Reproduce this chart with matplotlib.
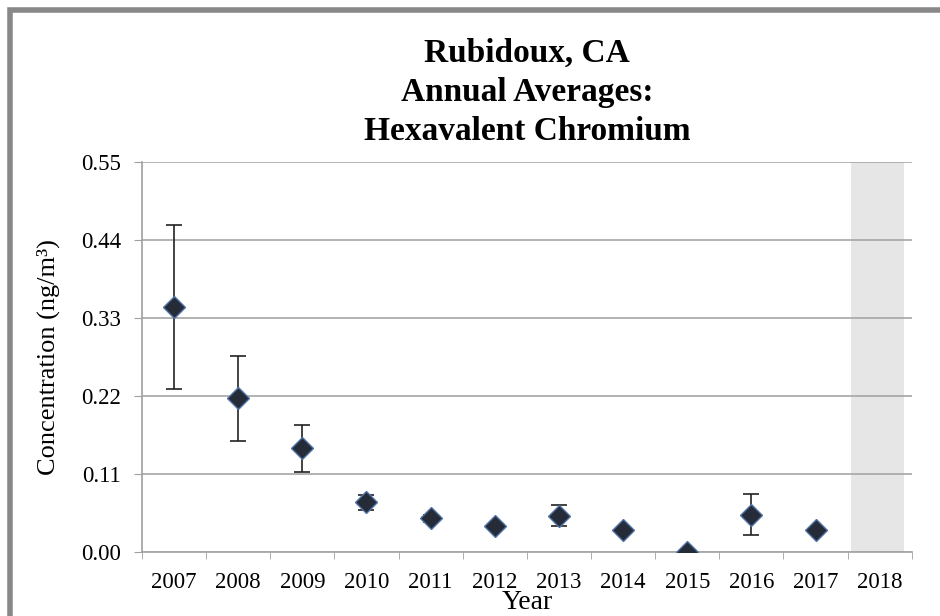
import matplotlib
matplotlib.use("Agg")
import matplotlib.pyplot as plt
from matplotlib.patches import Rectangle
import numpy as np

years = ["2007", "2008", "2009", "2010", "2011", "2012",
         "2013", "2014", "2015", "2016", "2017", "2018"]
averages = [0.3455, 0.217, 0.147, 0.0705, 0.048, 0.038,
            0.052, 0.031, 0.0, 0.053, 0.031, np.nan]
conf_int = [0.115, 0.060, 0.033, 0.011, 0.005, 0.002,
            0.015, 0.002, 0.0, 0.029, 0.002, np.nan]
shaded_years = ["2018"]
yticks = [0.0, 0.11, 0.22, 0.33, 0.44, 0.55]

plt.rcParams["font.family"] = ["Liberation Serif", "DejaVu Serif"]

fig = plt.figure(figsize=(9.4, 6.16), dpi=100)
ax = fig.add_axes([0.151, 0.1031, 0.819, 0.634])

x = np.arange(len(years))

# incomplete year shading
for yr in shaded_years:
    i = years.index(yr)
    ax.bar(i - 0.03, 0.55, width=0.83, color="#e6e6e6", zorder=1)

ax.errorbar(x, averages, yerr=conf_int, fmt="none", ecolor="#222222",
            elinewidth=1.2, capsize=6, capthick=1.2, zorder=3)
ax.plot(x, averages, linestyle="none", marker="D", markersize=11,
        markerfacecolor="#262b38", markeredgecolor="#4f73a8",
        markeredgewidth=1.0, zorder=4)

ax.set_xlim(-0.5, len(years) - 0.5)
ax.set_ylim(0, 0.55)
ax.set_yticks(yticks)
ax.set_yticklabels([f"{v:.2f}" for v in yticks])
ax.set_xticks(x)
ax.set_xticklabels(years)
ax.set_xticks(np.arange(-0.5, len(years)), minor=True)
ax.tick_params(axis="x", which="major", length=0, pad=14, labelsize=16.5)
ax.tick_params(axis="x", which="minor", length=5, color="#a0a0a0")
ax.tick_params(axis="y", length=6, color="#a0a0a0", pad=9, labelsize=16.5)

ax.yaxis.grid(True, color="#a6a6a6", linewidth=1.2, zorder=2)
ax.set_axisbelow(False)
for s in ["top", "right"]:
    ax.spines[s].set_visible(False)
for s in ["left", "bottom"]:
    ax.spines[s].set_color("#a0a0a0")
    ax.spines[s].set_linewidth(1.2)

ax.set_ylabel("Concentration (ng/m³)", fontsize=19, labelpad=15)
ax.set_xlabel("Year", fontsize=20, labelpad=-2)
ax.set_title("Rubidoux, CA\nAnnual Averages:\nHexavalent Chromium",
             fontsize=24, fontweight="bold", linespacing=1.33, pad=16)

# outer frame
fig.patches.append(Rectangle((9.5 / 940, -0.05), 1.1, 1 - 9.5 / 616 + 0.05,
                             transform=fig.transFigure, fill=False,
                             edgecolor="#888888", linewidth=4))

fig.savefig("out.png", dpi=100)
